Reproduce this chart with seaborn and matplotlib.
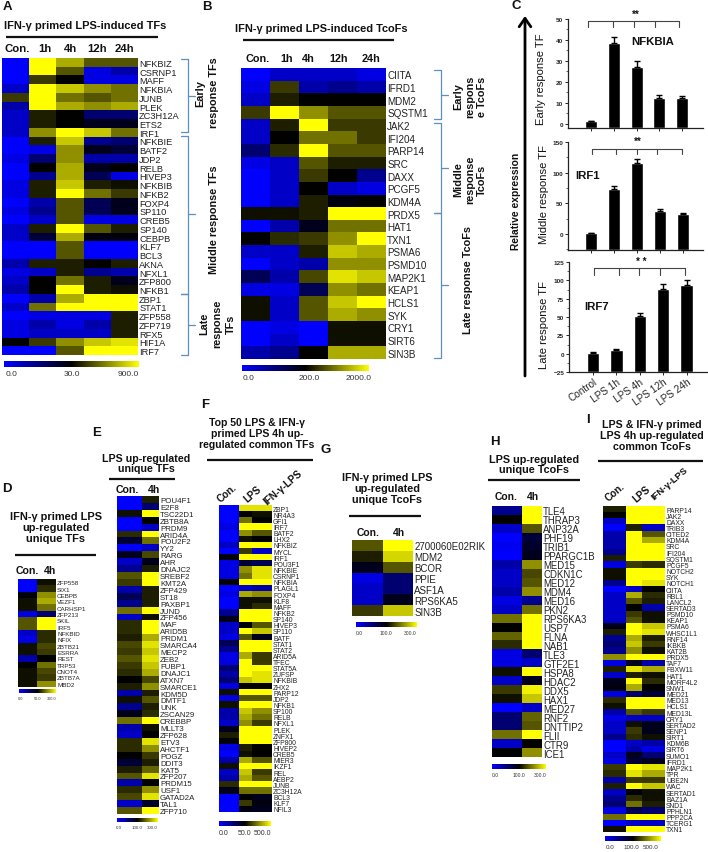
import numpy as np
import pandas as pd
import seaborn as sns
import matplotlib.pyplot as plt
from matplotlib.colors import LinearSegmentedColormap
from matplotlib.ticker import MultipleLocator

# scale of the heatmaps: -9 full blue, 0 black, 9 full yellow
a_genes = ["NFKBIZ", "CSRNP1", "MAFF", "NFKBIA", "JUNB", "PLEK", "ZC3H12A", "ETS2", "IRF1", "NFKBIE", "BATF2", "JDP2",
           "RELB", "HIVEP3", "NFKBIB", "NFKB2", "FOXP4", "SP110", "CREB5", "SP140", "CEBPB", "KLF7", "BCL3", "AKNA",
           "NFXL1", "ZFP800", "NFKB1", "ZBP1", "STAT1", "ZFP558", "ZFP719", "RFX5", "HIF1A", "IRF7"]
a_values = [[-9, 9, 6, 3, 3], [-9, 9, 3, -8, -6], [-9, 2, 0, -8, -8], [-7, 9, 7, 5, 4], [2, 9, 4, 3, 4], [-6, 9, 6, 5, 6],
            [-7, 1, 0, -4, -4], [-7, 1, 0, -1, -1], [-7, 5, 9, 7, 4], [-9, 1, 7, -5, -4], [-9, -8, 5, -1, -2],
            [-8, -4, 5, -6, -6], [-9, 0, 6, -1, 0], [-9, -5, 6, -3, -8], [-8, 1, 7, 1, 0.5], [-8, 1, 9, 4, 2],
            [-9, -6, 3, -3, -1], [-8, -5, 3, -3, -1], [-9, -7, 3, -8, -8], [-7, 1, 9, 3, 1], [-7, -2, 6, -0.5, -0.5],
            [-9, -9, 3, -9, -9], [-9, -9, 3, -9, -9], [-6, 1, 1, 0, 1], [-8, -7, 1, -5, -6], [-7, 0, 4, 1, -1],
            [-6, 0, 9, 1, 0.5], [-9, -6, 6, 9, 9], [-7, 4, 9, 9, 9], [-9, -8, -8, -8, 1], [-8, -6, -8, -6, 1],
            [-8, -7, -7, -7, 1], [0, 2, 5, 7, 8], [-9, -9, 3, 9, 9]]

b_genes = ["CIITA", "IFRD1", "MDM2", "SQSTM1", "JAK2", "IFI204", "PARP14", "SRC", "DAXX", "PCGF5", "KDM4A", "PRDX5",
           "HAT1", "TXN1", "PSMA6", "PSMD10", "MAP2K1", "KEAP1", "HCLS1", "SYK", "CRY1", "SIRT6", "SIN3B"]
b_values = [[-9, -7, -7, -7, -8], [-8, 2, -6, -5, -6], [-7, 1, 0, 0, 0], [2, 9, 5, 3, 3], [-7, 1, 9, 2, 2],
            [-7, 0, 4, 4, 2], [-4, 1.5, 9, 3, 3], [-8, -7, 3, 1, 1], [-9, -7, 2, 0, -5], [-9, -7, 0, -7, -8],
            [-9, -7, 1, -0.5, 0], [0.5, 0.5, 1, 9, 9], [-9, -6, -1, 4, 4], [0, 1.5, 2, 5, 9], [-7, -7, 1, 7, 6],
            [-9, -7, -6, 5, 5], [-3, -6, 2.5, 8, 7], [-8, -8, -3, 5, 4], [0.5, -7, 3, 7, 9], [0.5, -7, 3, 6, 5],
            [-9, -8, -9, 0.5, 0.5], [-9, -7, -9, 0.5, 0.5], [-6, -5, 0, 6, 6]]

d_genes = ["ZFP558", "SIX1", "CEBPB", "VEZF1", "CARHSP1", "ZFP213", "SKIL", "IRF5", "NFKBID", "NFIX", "ZBTB21", "ESRRA",
           "REST", "TRP53", "CNOT4", "ZBTB7A", "MBD2"]
d_values = [[-9, 0.5], [-9, 1.5], [-0.5, 5], [0.5, 6], [0.5, 4], [-8, -4], [3, 9], [3, 9], [-7, 1.5], [-8, 1.5],
            [0.5, 2.5], [0.5, 2], [-6, 0], [0, 4], [0.5, 2.5], [0.5, 2], [0.5, 5]]

e_genes = ["POU4F1", "E2F8", "TSC22D1", "ZBTB8A", "PRDM9", "ARID4A", "POU2F2", "YY2", "RARG", "AHR", "DNAJC2", "SREBF2",
           "KMT2A", "ZFP429", "ST18", "PAXBP1", "JUND", "ZFP456", "MAF", "ARID5B", "PRDM1", "SMARCA4", "MECP2", "ZEB2",
           "FUBP1", "DNAJC1", "ATXN7", "SMARCE1", "KDM5D", "DMTF1", "UNK", "ZSCAN29", "CREBBP", "MLLT3", "ZFP628",
           "ETV3", "AHCTF1", "POGZ", "DDIT3", "KAT5", "ZFP207", "PRDM15", "USF1", "GATAD2A", "TAL1", "ZFP710"]
e_values = [[-9, 1], [-9, -4], [0.5, 9], [-9, 0], [-9, -7], [1.5, 9], [-2, 4], [-9, -7], [-1, 2.5], [-7, -1], [-5, 1],
            [3, 9], [2, 9], [-6, 1], [-3, 1], [-5, 1], [4, 9], [-7, 0.5], [1.5, 9], [1.5, 9], [1, 6], [2.5, 8], [2, 7],
            [3, 8], [2, 7], [1.5, 6], [0, 2.5], [1, 5], [-6, 1], [0.5, 3], [-5, 1], [-1, 1.5], [4, 9], [-6, 0.5], [-7, 0],
            [1.5, 8], [1.5, 5], [0, 2], [-2, 1], [1, 3.5], [3, 8], [-6, 0], [1.5, 5], [2.5, 8], [-7, -1.5], [3, 9]]

f_genes = ["ZBP1", "NR4A3", "GFI1", "IRF7", "BATF2", "LHX2", "NFKBIZ", "MYCL", "IRF1", "POU3F1", "NFKBIE", "CSRNP1",
           "NFKBIA", "PLAGL1", "FOXP4", "KLF8", "MAFF", "NFKB2", "SP140", "HIVEP3", "SP110", "BATF", "STAT1", "STAT2",
           "ARID5A", "TFEC", "STAT5A", "ZUFSP", "NFKBIB", "ZHX2", "PARP12", "JDP2", "NFKB1", "SP100", "RELB", "NFXL1",
           "PLEK", "ZNFX1", "ZFP800", "HIVEP2", "CREB5", "MIER3", "IKZF1", "REL", "AEBP2", "JUNB", "ZC3H12A", "BCL3",
           "KLF7", "NFIL3"]
f_values = [[-9, 8, 8], [-9, 0, 0.5], [-9, 4, 0], [-8, 9, 9], [-9, 5, 3], [-9, 0.5, 0], [-7, 9, 9], [-9, 2, -7],
            [-0.5, 9, 9], [-8, -2, -3], [-8, 5, 8], [-8, 4, 8], [0, 9, 9], [-9, -7, -6], [-8, 6, 5], [-9, 0.5, 0.5],
            [-9, 0.5, 1.5], [-5, 9, 9], [-1, 9, 9], [-7, 0, 3], [-7, 9, 7], [-8, 3, -1], [-3, 9, 9], [-5, 9, 9],
            [-8, 6, 2], [-8, 9, 2], [-4, 9, 9], [-6, 9, 8], [-4, 7, 8], [-8, 0, 0], [0.5, 9, 9], [-8, 3, 3], [0.5, 9, 9],
            [-6, 7, 5], [-6, 6, 4], [-7, 5, 2], [-1, 9, 9], [1, 9, 9], [-0.5, 9, 9], [-8, 1, 0], [-9, 0.5, 0], [-6, 6, 3],
            [0.5, 9, 9], [-7, 7, 2], [-6, 6, 3], [1.5, 9, 9], [-1, 4, 4], [-9, 0, -1], [-9, 2, -0.5], [-9, -0.5, -1]]

g_genes = ["2700060E02RIK", "MDM2", "BCOR", "PPIE", "ASF1A", "RPS6KA5", "SIN3B"]
g_values = [[3, 9], [1, 7.5], [-1, 3], [-8, -4], [-7, -4], [-7, -1], [2, 7]]

h_genes = ["TLE4", "THRAP3", "ANP32A", "PHF19", "TRIB1", "PPARGC1B", "MED15", "CDKN1C", "MED12", "MDM4", "MED16", "PKN2",
           "RPS6KA3", "USP7", "FLNA", "NAB1", "TLE3", "GTF2E1", "HSPA8", "HDAC2", "DDX5", "HAX1", "MED27", "RNF2",
           "DNTTIP2", "FLII", "CTR9", "ICE1"]
h_values = [[-5, 9], [0, 9], [-7, 3], [-9, -2], [-8.5, -1.5], [-9, -1], [-6, 5], [-7, 2.5], [-7, 3], [-6, 5], [-8, -5],
            [-7, 4], [4, 9], [0, 9], [3.5, 9], [1.5, 9], [-8, -4], [-8, -7], [0.5, 9], [-7, -1], [2, 8.5], [0.5, 7],
            [-9, -7], [-4, 3.5], [-4, 3], [4, 9], [-7, 0], [0, 5]]

i_genes = ["PARP14", "JAK2", "DAXX", "TRIB3", "CITED2", "KDM4A", "SRC", "IFI204", "SQSTM1", "PCGF5", "NOTCH2", "SYK",
           "NOTCH1", "CIITA", "RBL1", "LANCL2", "SERTAD3", "PSMD10", "KEAP1", "PSMA6", "WHSC1L1", "RNF14", "IKBKB",
           "KAT2B", "PRDX5", "TAF7", "FBXW11", "HAT1", "MORF4L2", "SNW1", "MED21", "MED13", "HCLS1", "MED13L", "CRY1",
           "SERTAD2", "SENP1", "SIRT1", "KDM6B", "SIRT6", "SUMO1", "IFRD1", "MAP2K1", "TPR", "UBE2N", "WAC", "SERTAD1",
           "BAZ1A", "SND1", "PPHLN1", "PPP2CA", "TCERG1", "TXN1"]
i_values = [[1, 9, 9], [0, 9, 9], [-7, 9, 9], [-9, 1, -7], [-6, 9, 3], [-6, 9, 6], [-6, 9, 9], [-5, 9, 9], [1, 9, 9],
            [-8, 2, 1.5], [0.5, 9, 9], [0.5, 9, 9], [-5, 9, 8], [-9, -7, 0], [-7, 6, 1.5], [-7, 3, 1], [-7, 0, -6],
            [-7, 2, 0.5], [-7, 3, 0.5], [-1, 9, 7], [1, 9, 8], [-5, 6, 1], [-4, 7, 2], [-5, 5, 0.5], [5, 9, 9],
            [-8, -1, -6], [1, 8, 6], [-7, 1, 0.5], [-1, 9, 1.5], [-0.5, 6, 0], [-8, -4, -2], [1.5, 9, 9], [0.5, 9, 9],
            [-6, 3, 2], [-8, -7, -7], [-7, 0.5, -1], [-7, 2, -1], [-5, 1.5, 0.5], [-9, -7, -6], [-9, -6, -8], [-7, -1, -4],
            [-8, -2, -1], [2, 9, 8], [1.5, 8, 6], [-6, 2, 2], [1, 9, 7], [-7, -0.5, 0.5], [-5, 1.5, 0.5], [-4, 4, 1],
            [-8, -3, -4], [4, 9, 9], [-9, -7, -7], [0.5, 9, 9]]

# bar panels
bar_labels = ["Control", "LPS 1h", "LPS 4h", "LPS 12h", "LPS 24h"]
nfkbia_mean = [1.2, 38.5, 27.3, 12.4, 12.2]
nfkbia_err = [0.3, 2.7, 2.8, 1.5, 1.0]
irf1_mean = [1, 73, 115, 38, 32]
irf1_err = [1, 5, 7, 3, 3]
irf7_mean = [1.5, 5.5, 51, 88, 93]
irf7_err = [0.5, 0.5, 5, 7, 7]

sns.set_theme(style="white")
plt.rcParams['font.family'] = ['Liberation Sans', 'DejaVu Sans']

W, H = 708, 853
fig = plt.figure(figsize=(W / 100, H / 100), dpi=100)
cmap = LinearSegmentedColormap.from_list("by", ["#0000ff", "#000000", "#ffff00"])


def box(x0, y0, x1, y1):
    return fig.add_axes([x0 / W, 1 - y1 / H, (x1 - x0) / W, (y1 - y0) / H])


def heat(pos, rows, genes, repeats, fs, cpos, cticks, clabels, cfs):
    # each column group is drawn with its number of cells
    data = pd.DataFrame(np.repeat(np.array(rows, dtype=float), repeats, axis=1), index=genes)
    ax = box(*pos)
    cax = box(*cpos)
    sns.heatmap(data, ax=ax, cmap=cmap, vmin=-9, vmax=9, cbar_ax=cax, xticklabels=False, yticklabels=True,
                cbar_kws={"orientation": "horizontal"})
    ax.yaxis.tick_right()
    ax.set_ylabel("")
    ax.tick_params(axis="y", length=0, pad=0.8, labelsize=fs, labelrotation=0, labelcolor="#222222")
    cbar = ax.collections[0].colorbar
    cbar.set_ticks(cticks, labels=clabels)
    cbar.outline.set_visible(False)
    cax.tick_params(axis="x", length=0, pad=2.5, labelsize=cfs, labelcolor="#333333")


heat((2, 59, 138, 356), a_values, a_genes, 3, 6.7, (4, 362, 139, 368), [-8, 0, 7.5], ["0.0", "30.0", "900.0"], 6)
heat((241, 69, 386, 360), b_values, b_genes, 3, 7.1, (242, 366, 369, 372), [-8, 0.5, 7.5], ["0.0", "200.0", "2000.0"], 6)
heat((18, 580, 56, 688), d_values, d_genes, 3, 4.5, (19, 690, 56, 694), [-8, 0, 7], ["0.0", "50.0", "300.0"], 2.8)
heat((117, 497, 159, 815), e_values, e_genes, [3, 2], 5.7, (117, 819, 158, 823), [-8, 0, 6.5], ["0.0", "100.0", "300.0"], 3.2)
heat((219, 506, 272, 813), f_values, f_genes, [3, 2, 3], 4.9, (219, 822, 271, 827), [-7.5, 0, 6], ["0.0", "50.0", "500.0"], 5)
heat((352, 541, 413, 617), g_values, g_genes, 3, 7, (356, 623, 417, 628), [-8, 0, 7], ["0.0", "100.0", "300.0"], 3.6)
heat((492, 507, 542, 758), h_values, h_genes, [3, 2], 6.9, (492, 765, 546, 770), [-8, 0, 7], ["0.0", "100.0", "300.0"], 3.6)
heat((603, 507, 665, 833), i_values, i_genes, [3, 2, 3], 4.9, (605, 837, 661, 842), [-7.5, -0.5, 5.5], ["0.0", "100.0", "500.0"], 4.5)


def bars(pos, means, errs, xlim, ylim, step, minor, show_x):
    ax = box(*pos)
    sns.barplot(x=bar_labels, y=means, color="black", width=0.53, saturation=1, ax=ax)
    # the bars stand on the lower end of the axis, not on zero
    for p, m in zip(ax.patches, means):
        p.set_y(ylim[0])
        p.set_height(m - ylim[0])
    ax.errorbar(range(5), means, yerr=[np.zeros(5), errs], fmt="none", ecolor="black", elinewidth=1, capsize=2, capthick=1)
    ax.set_xlim(*xlim)
    ax.set_ylim(*ylim)
    ax.yaxis.set_major_locator(MultipleLocator(step))
    ax.yaxis.set_minor_locator(MultipleLocator(minor))
    sns.despine(ax=ax)
    ax.patch.set_alpha(0)
    for s in ["left", "bottom"]:
        ax.spines[s].set_linewidth(0.9)
        ax.spines[s].set_color("#222222")
    ax.tick_params(axis="y", which="major", left=True, length=2.5, width=0.7, pad=1, labelsize=4.6)
    ax.tick_params(axis="y", which="minor", left=True, length=1.5, width=0.5)
    for t in ax.get_yticklabels():
        t.set_fontweight("bold")
    if show_x:
        ax.tick_params(axis="x", bottom=True, length=2, width=0.7, pad=1)
        ax.set_xticks(range(5), bar_labels, rotation=35, ha="right", rotation_mode="anchor", fontsize=7.2)
    else:
        ax.tick_params(axis="x", bottom=True, length=2, width=0.7, labelbottom=False)


bars((568, 20, 703, 129), nfkbia_mean, nfkbia_err, (-1.01, 4.91), (-2, 50), 10, 5, False)
bars((568, 143, 703, 251), irf1_mean, irf1_err, (-1.0, 4.87), (-26, 150), 50, 25, False)
bars((569, 263, 707, 373), irf7_mean, irf7_err, (-1.02, 4.87), (-25, 125), 25, 12.5, True)

# everything else sits on one overlay in pixel coordinates
over = fig.add_axes([0, 0, 1, 1])
over.set_xlim(0, W)
over.set_ylim(H, 0)
over.axis("off")
over.patch.set_alpha(0)


def txt(x, y, s, fs=8, rot=0, weight="bold", ha="center", va="center", **kw):
    over.text(x, y, s, fontsize=fs, rotation=rot, fontweight=weight, ha=ha, va=va, color="#111111",
              linespacing=1.12, rotation_mode="anchor", **kw)


for letter, x, y in [("A", 7, 7), ("B", 207, 7), ("C", 516, 6), ("D", 7, 489), ("E", 97, 433), ("F", 205, 405),
                     ("G", 326, 450), ("H", 495, 442), ("I", 588, 420)]:
    txt(x, y, letter, fs=9.5)

# titles and rules
for x, y, s, fs in [(85, 26, "IFN-γ primed LPS-induced TFs", 8.0), (321, 29, "IFN-γ primed LPS-induced TcoFs", 7.9),
                    (56, 528, "IFN-γ primed LPS\nup-regulated\nunique TFs", 7.9), (146, 464, "LPS up-regulated\nunique TFs", 7.7),
                    (257, 434, "Top 50 LPS & IFN-γ\nprimed LPS 4h up-\nregulated common TFs", 7.6),
                    (387, 489, "IFN-γ primed LPS\nup-regulated\nunique TcoFs", 7.8),
                    (534, 465, "LPS up-regulated\nunique TcoFs", 7.8),
                    (652, 436, "LPS & IFN-γ primed\nLPS 4h up-regulated\ncommon TcoFs", 7.7)]:
    txt(x, y, s, fs=fs)
for x0, x1, y in [(6, 158, 38), (243, 394, 41), (15, 96, 556), (109, 175, 480), (207, 313, 461), (349, 421, 517),
                  (488, 580, 481), (598, 703, 462)]:
    over.plot([x0, x1], [y, y], color="#111111", lw=1.6, solid_capstyle="butt")

# column headers
for x, y, s, fs in [(17, 49, "Con.", 8.2), (45, 49, "1h", 8.2), (71, 49, "4h", 8.2), (97, 49, "12h", 8.2), (124, 49, "24h", 8.2),
                    (258, 59, "Con.", 7.8), (287, 59, "1h", 7.8), (308, 59, "4h", 7.8), (339, 59, "12h", 7.8), (371, 59, "24h", 7.8),
                    (27, 571, "Con.", 7.6), (50, 571, "4h", 7.6), (127, 490, "Con.", 7.6), (154, 490, "4h", 7.6),
                    (368, 533, "Con.", 7.4), (399, 533, "4h", 7.4), (506, 497, "Con.", 7.4), (533, 497, "4h", 7.4)]:
    txt(x, y, s, fs=fs)
for x, y, s, fs in [(221, 503, "Con.", 7.2), (247, 503, "LPS", 7.2), (267, 505, "IFN-γ-LPS", 7.2),
                    (609, 502, "Con.", 7.2), (636, 503, "LPS", 7.2), (654, 500, "IFN-γ-LPS", 6.8)]:
    txt(x, y, s, fs=fs, rot=41, ha="left", va="baseline")

# response group brackets
blue = "#5f8fc0"
for x, top, mid, bot in [(188, 60, 97, 133), (188, 137, 215, 295), (188, 295, 326, 356),
                         (441, 71, 96, 120), (441, 124, 169, 214), (441, 214, 286, 359)]:
    over.plot([x - 7, x, x, x - 7], [top, top, bot, bot], color=blue, lw=0.9)
    over.plot([x, x + 7], [mid, mid], color=blue, lw=0.9)

for x, y, s in [(200, 94, "Early"), (214, 93, "response TFs"), (214, 220, "Middle response TFs"), (204, 324, "Late"),
                (217, 324, "response"), (231, 324, "TFs"), (458, 97, "Early"), (470, 97, "respons"), (482, 97, "e TcoFs"),
                (458, 180, "Middle"), (470, 180, "response"), (482, 180, "TcoFs"), (468, 280, "Late response TcoFs")]:
    txt(x, y, s, fs=7.8, rot=90)

# panel C text, arrow and significance brackets
over.annotate("", xy=(525, 17), xytext=(525, 377),
              arrowprops=dict(arrowstyle="->,head_length=0.5,head_width=0.35", lw=2, color="black", shrinkA=0, shrinkB=0))
txt(516, 201, "Relative expression", fs=7.4, rot=90)
txt(541, 79, "Early response TF", fs=8.1, rot=90, weight="normal")
txt(544, 194, "Middle response TF", fs=8.1, rot=90, weight="normal")
txt(544, 325, "Late response TF", fs=8.1, rot=90, weight="normal")
txt(653, 42, "NFKBIA", fs=8.2)
txt(588, 176, "IRF1", fs=8.2)
txt(597, 307, "IRF7", fs=8.2)
for xs, y0, y1, star, sx, sy in [((588, 613, 634, 655, 679), 22, 28, "**", 636, 15),
                                 ((592, 616, 637, 657, 682), 150, 155, "**", 638, 142),
                                 ((594, 619, 639, 660, 685), 269, 276, "* *", 641, 262)]:
    over.plot([xs[0], xs[-1]], [y0, y0], color="#444444", lw=0.8)
    for x in xs:
        over.plot([x, x], [y0, y1], color="#444444", lw=0.8)
    txt(sx, sy, star, fs=7)

fig.savefig("out.png", dpi=100)
